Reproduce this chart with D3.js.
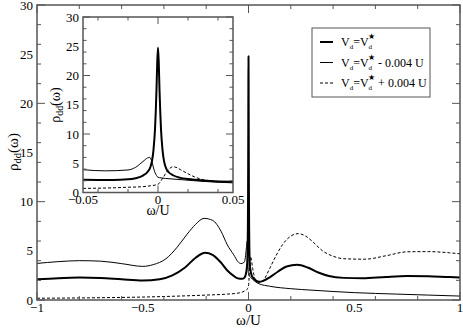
<!DOCTYPE html>
<html>
<head>
<meta charset="utf-8">
<script src="https://cdn.jsdelivr.net/npm/d3@7"></script>
<style>
  body { margin: 0; background: #fff; }
  text { font-family: "Liberation Serif", "Times New Roman", "DejaVu Serif", serif; }
</style>
</head>
<body>
<svg id="chart" width="463" height="329"></svg>
<script>
// [omega/U, rho_dd]
const atStar = [
  [-1.0, 2.1], [-0.9, 2.22], [-0.8, 2.28], [-0.7, 2.24], [-0.6, 2.1], [-0.5, 1.98],
  [-0.42, 2.1], [-0.36, 2.5], [-0.3, 3.3], [-0.25, 4.3], [-0.205, 4.8], [-0.17, 4.6],
  [-0.13, 3.8], [-0.1, 3.0], [-0.07, 2.45], [-0.05, 2.2], [-0.03, 2.15], [-0.02, 2.25],
  [-0.015, 2.45], [-0.01, 2.9], [-0.007, 3.5], [-0.005, 4.4], [-0.004, 5.4], [-0.003, 7.3],
  [-0.002, 10.8], [-0.0015, 13.8], [-0.001, 17.6], [-0.0005, 22.3], [0, 24.8],
  [0.0005, 22.3], [0.001, 17.6], [0.0015, 13.8], [0.002, 10.8], [0.003, 7.3],
  [0.004, 5.4], [0.005, 4.4], [0.007, 3.5], [0.01, 2.95], [0.015, 2.5], [0.02, 2.3],
  [0.03, 2.05], [0.05, 1.85], [0.07, 1.95], [0.1, 2.3], [0.14, 2.9], [0.18, 3.4],
  [0.23, 3.58], [0.28, 3.3], [0.33, 2.8], [0.38, 2.45], [0.45, 2.25], [0.54, 2.2],
  [0.65, 2.35], [0.75, 2.44], [0.85, 2.42], [0.95, 2.33], [1.0, 2.3]
];
const belowStar = [
  [-1.0, 3.72], [-0.9, 3.9], [-0.8, 4.0], [-0.7, 3.95], [-0.6, 3.7], [-0.5, 3.42],
  [-0.45, 3.6], [-0.39, 4.2], [-0.34, 5.3], [-0.29, 6.7], [-0.25, 7.7], [-0.21, 8.3],
  [-0.17, 8.1], [-0.13, 7.0], [-0.1, 5.6], [-0.07, 4.6], [-0.05, 3.9], [-0.035, 3.7],
  [-0.02, 3.85], [-0.015, 4.3], [-0.01, 5.3], [-0.007, 5.9], [-0.0055, 6.0],
  [-0.004, 5.2], [-0.003, 4.2], [-0.002, 3.4], [-0.001, 2.9], [0, 2.6],
  [0.002, 2.5], [0.005, 2.4], [0.01, 2.3], [0.02, 2.1], [0.03, 1.9], [0.05, 1.65],
  [0.1, 1.4], [0.2, 1.15], [0.3, 1.0], [0.5, 0.75], [0.7, 0.6], [0.85, 0.5], [1.0, 0.4]
];
const aboveStar = [
  [-1.0, 0.18], [-0.75, 0.22], [-0.5, 0.3], [-0.3, 0.42], [-0.2, 0.5], [-0.1, 0.6],
  [-0.05, 0.7], [-0.03, 0.8], [-0.02, 0.9], [-0.01, 1.0], [-0.005, 1.15], [0, 1.4],
  [0.002, 2.0], [0.004, 2.8], [0.006, 3.6], [0.008, 4.15], [0.01, 4.4], [0.012, 4.3],
  [0.015, 3.9], [0.02, 3.2], [0.025, 2.6], [0.03, 2.2], [0.04, 1.9], [0.05, 1.8],
  [0.07, 2.0], [0.1, 3.2], [0.13, 4.5], [0.16, 5.6], [0.2, 6.5], [0.235, 6.75],
  [0.27, 6.5], [0.3, 6.0], [0.35, 5.0], [0.4, 4.45], [0.45, 4.2], [0.55, 4.15],
  [0.65, 4.5], [0.75, 4.9], [0.85, 4.92], [0.95, 4.8], [1.0, 4.7]
];

const series = [
  { data: atStar, width: 2, dash: null, label: "" },
  { data: belowStar, width: 1, dash: null, label: " - 0.004 U" },
  { data: aboveStar, width: 1, dash: "3,2", label: " + 0.004 U" }
];

const mainXTicks = [-1, -0.5, 0, 0.5, 1];
const mainYTicks = [0, 5, 10, 15, 20, 25, 30];
const insetXTicks = [-0.05, 0, 0.05];
const insetYTicks = [0, 5, 10, 15, 20, 25, 30];

const svg = d3.select("#chart");
const axisColor = "#555";
const serif = "'Liberation Serif', 'Times New Roman', 'DejaVu Serif', serif";

function panel(box, xDomain, yDomain, xTicks, yTicks, xMinor, yMinor, tickLen, clipId, fs, xlOff) {
  const x = d3.scaleLinear().domain(xDomain).range([box.left, box.right]);
  const y = d3.scaleLinear().domain(yDomain).range([box.bottom, box.top]);
  const g = svg.append("g");

  g.append("rect")
    .attr("x", box.left).attr("y", box.top)
    .attr("width", box.right - box.left).attr("height", box.bottom - box.top)
    .attr("fill", "#fff");

  g.append("clipPath").attr("id", clipId)
    .append("rect")
    .attr("x", box.left).attr("y", box.top)
    .attr("width", box.right - box.left).attr("height", box.bottom - box.top);

  const line = d3.line()
    .x(d => x(d[0]))
    .y(d => y(d[1]))
    .curve(d3.curveMonotoneX);

  const lines = g.append("g").attr("clip-path", "url(#" + clipId + ")");
  series.forEach(s => {
    lines.append("path")
      .datum(s.data)
      .attr("fill", "none")
      .attr("stroke", "#000")
      .attr("stroke-width", s.width)
      .attr("stroke-dasharray", s.dash)
      .attr("stroke-linejoin", "round")
      .attr("d", line);
  });

  // ticks on all four sides, pointing in
  const ticks = g.append("g").attr("stroke", axisColor).attr("stroke-width", 1);
  x.ticks(xMinor).forEach(t => {
    const major = xTicks.some(v => Math.abs(v - t) < 1e-9);
    const len = major ? tickLen : tickLen / 2;
    ticks.append("line").attr("x1", x(t)).attr("x2", x(t)).attr("y1", box.bottom).attr("y2", box.bottom - len);
    ticks.append("line").attr("x1", x(t)).attr("x2", x(t)).attr("y1", box.top).attr("y2", box.top + len);
  });
  y.ticks(yMinor).forEach(t => {
    const major = yTicks.some(v => Math.abs(v - t) < 1e-9);
    const len = major ? tickLen : tickLen / 2;
    ticks.append("line").attr("y1", y(t)).attr("y2", y(t)).attr("x1", box.left).attr("x2", box.left + len);
    ticks.append("line").attr("y1", y(t)).attr("y2", y(t)).attr("x1", box.right).attr("x2", box.right - len);
  });

  g.append("rect")
    .attr("x", box.left).attr("y", box.top)
    .attr("width", box.right - box.left).attr("height", box.bottom - box.top)
    .attr("fill", "none").attr("stroke", axisColor).attr("stroke-width", 1.5);

  g.selectAll(".xl").data(xTicks).enter().append("text")
    .attr("x", d => x(d)).attr("y", box.bottom + xlOff)
    .attr("text-anchor", "middle").attr("font-size", fs).attr("font-family", serif)
    .text(d => d3.format("")(d));
  g.selectAll(".yl").data(yTicks).enter().append("text")
    .attr("x", box.left - 4).attr("y", d => y(d) + fs * 0.35)
    .attr("text-anchor", "end").attr("font-size", fs).attr("font-family", serif)
    .text(d => d);

  return { x, y, g };
}

function yLabel(cx, cy, size) {
  const t = svg.append("text")
    .attr("transform", "translate(" + cx + "," + cy + ") rotate(-90)")
    .attr("text-anchor", "middle").attr("font-size", size).attr("font-family", serif);
  t.append("tspan").text("ρ");
  t.append("tspan").attr("dy", 3).attr("font-size", size * 0.7).text("dd");
  t.append("tspan").attr("dy", -3).text("(ω)");
}

function xLabel(cx, cy, size) {
  svg.append("text").attr("x", cx).attr("y", cy).attr("font-family", serif)
    .attr("text-anchor", "middle").attr("font-size", size).text("ω/U");
}

// main panel
panel({ left: 37, right: 460, top: 5, bottom: 300 }, [-1, 1], [0, 30],
  mainXTicks, mainYTicks, 8, 12, 8, "clipMain", 13, 12);
xLabel(248.5, 325, 15);
yLabel(18, 152, 15);

// inset
panel({ left: 83, right: 233, top: 17, bottom: 192.5 }, [-0.05, 0.05], [0, 30],
  insetXTicks, insetYTicks, 4, 12, 7, "clipInset", 13, 11);
xLabel(158, 215, 14);
yLabel(60, 105, 14);

// legend
const leg = svg.append("g");
leg.append("rect").attr("x", 312).attr("y", 28).attr("width", 118).attr("height", 69)
  .attr("fill", "#fff").attr("stroke", axisColor).attr("stroke-width", 1);
series.forEach((s, i) => {
  const ly = 42 + i * 20.5;
  leg.append("line").attr("x1", 320).attr("x2", 333).attr("y1", ly).attr("y2", ly)
    .attr("stroke", "#000").attr("stroke-width", s.width).attr("stroke-dasharray", s.dash);
  const t = leg.append("text").attr("x", 341).attr("y", ly + 4)
    .attr("font-size", 12).attr("font-family", serif);
  t.append("tspan").text("V");
  t.append("tspan").attr("dy", 3).attr("font-size", 7).text("d");
  t.append("tspan").attr("dy", -3).text("=V");
  t.append("tspan").attr("dy", 3).attr("font-size", 7).text("d");
  t.append("tspan").attr("dx", -4).attr("dy", -10).attr("font-size", 8).text("★");
  t.append("tspan").attr("dy", 7).text(s.label);
});
</script>
</body>
</html>
